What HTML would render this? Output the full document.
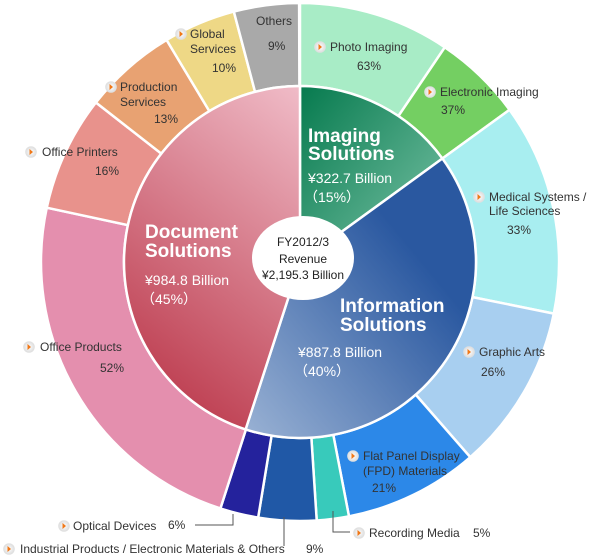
<!DOCTYPE html>
<html><head><meta charset="utf-8"><style>
html,body{margin:0;padding:0;background:#fff;width:600px;height:556px;overflow:hidden}
svg{display:block}
text{font-family:"Liberation Sans",sans-serif}
.l{font-size:12px;fill:#333}
.t{font-size:19px;font-weight:bold;fill:#fff}
.v{font-size:14px;fill:#fff}
.c{font-size:12px;fill:#222;text-anchor:middle}
</style></head><body>
<svg id="s" width="600" height="556" viewBox="0 0 600 556">
<defs>
<linearGradient id="gi" x1="0" y1="0" x2="1" y2="1"><stop offset="0" stop-color="#067a4e"/><stop offset="1" stop-color="#7cc4a8"/></linearGradient>
<linearGradient id="gf" x1="1" y1="0" x2="0" y2="1"><stop offset="0.3" stop-color="#2a58a0"/><stop offset="1" stop-color="#9ab2d4"/></linearGradient>
<linearGradient id="gd" x1="1" y1="0" x2="0.6" y2="1"><stop offset="0" stop-color="#f0bcc8"/><stop offset="1" stop-color="#c04456"/></linearGradient>
<radialGradient id="bul"><stop offset="0" stop-color="#fff"/><stop offset="1" stop-color="#ddd"/></radialGradient>
</defs>
<g id="pie"></g>
<ellipse cx="303" cy="258" rx="51" ry="42" fill="#fff"/>
<text class="c" x="303" y="246">FY2012/3</text>
<text class="c" x="303" y="263">Revenue</text>
<text class="c" x="303" y="279">¥2,195.3 Billion</text>

<text class="t" x="308" y="142">Imaging</text>
<text class="t" x="308" y="160">Solutions</text>
<text class="v" x="308" y="183">¥322.7 Billion</text>
<text class="v" x="304" y="202">（15%）</text>

<text class="t" x="145" y="238">Document</text>
<text class="t" x="145" y="257">Solutions</text>
<text class="v" x="145" y="285">¥984.8 Billion</text>
<text class="v" x="141" y="304">（45%）</text>

<text class="t" x="340" y="312">Information</text>
<text class="t" x="340" y="331">Solutions</text>
<text class="v" x="298" y="357">¥887.8 Billion</text>
<text class="v" x="294" y="376">（40%）</text>

<g id="labels">
<text class="l" x="256" y="25">Others</text><text class="l" x="268" y="50">9%</text>
<text class="l" x="190" y="38">Global</text><text class="l" x="190" y="53">Services</text><text class="l" x="212" y="72">10%</text>
<text class="l" x="120" y="91">Production</text><text class="l" x="120" y="106">Services</text><text class="l" x="154" y="123">13%</text>
<text class="l" x="42" y="156">Office Printers</text><text class="l" x="95" y="175">16%</text>
<text class="l" x="40" y="351">Office Products</text><text class="l" x="100" y="372">52%</text>
<text class="l" x="330" y="51">Photo Imaging</text><text class="l" x="357" y="70">63%</text>
<text class="l" x="440" y="96">Electronic Imaging</text><text class="l" x="441" y="114">37%</text>
<text class="l" x="489" y="201">Medical Systems /</text><text class="l" x="489" y="215">Life Sciences</text><text class="l" x="507" y="234">33%</text>
<text class="l" x="479" y="356">Graphic Arts</text><text class="l" x="481" y="376">26%</text>
<text class="l" x="363" y="460">Flat Panel Display</text><text class="l" x="363" y="475">(FPD) Materials</text><text class="l" x="372" y="492">21%</text>
<text class="l" x="369" y="537">Recording Media</text><text class="l" x="473" y="537">5%</text>
<text class="l" x="73" y="530">Optical Devices</text><text class="l" x="168" y="529">6%</text>
<text class="l" x="20" y="553">Industrial Products / Electronic Materials &amp; Others</text><text class="l" x="306" y="553">9%</text>
</g>
<g stroke="#555" fill="none" stroke-width="1">
<polyline points="195,525 233,525 233,514"/>
<line x1="284" y1="517" x2="284" y2="546"/>
<polyline points="333,511 333,532 350,532"/>
</g>
<g id="bullets"></g>
</svg>
<script>
var cx=300,cy=262,R=259,r=176;
function P(a,rr){a=a*Math.PI/180;return [(cx+rr*Math.sin(a)).toFixed(2),(cy-rr*Math.cos(a)).toFixed(2)];}
function seg(a0,a1,r0,r1){var l=(a1-a0)>180?1:0;var p1=P(a0,r1),p2=P(a1,r1),p3=P(a1,r0),p4=P(a0,r0);
return "M"+p1+"A"+r1+","+r1+" 0 "+l+" 1 "+p2+"L"+p3+(r0>0?"A"+r0+","+r0+" 0 "+l+" 0 "+p4:"")+"Z";}
var g=document.getElementById('pie'),h='';
function add(a0,a1,r0,r1,f){h+='<path d="'+seg(a0,a1,r0,r1)+'" fill="'+f+'" stroke="#fff" stroke-width="2.5"/>';}
var outer=[[34,'#a8ecc6'],[20,'#74cf62'],[47.5,'#a8eef0'],[37.4,'#a8cff0'],[30.2,'#2c88e8'],[7.2,'#38cabb'],[13,'#2058a6'],[8.6,'#24229c'],[84.2,'#e48fae'],[25.9,'#e8928c'],[21,'#e8a272'],[16.2,'#eed886'],[14.6,'#a9a9a9']];
var a=0;outer.forEach(function(o){add(a,a+o[0],r,R,o[1]);a+=o[0];});
add(0,54,0,r,'url(#gi)');add(54,198,0,r,'url(#gf)');add(198,360,0,r,'url(#gd)');
g.innerHTML=h;
var b=[[181,34],[111,87],[31,152],[29,347],[320,47],[430,92],[479,197],[469,352],[353,456],[359,533],[64,526],[9,549]],bh='';
b.forEach(function(p){bh+='<circle cx="'+p[0]+'" cy="'+p[1]+'" r="5.5" fill="url(#bul)" stroke="#e0e0e0" stroke-width="0.6"/><path d="M'+(p[0]-1.5)+','+(p[1]-3)+'L'+(p[0]+2)+','+p[1]+'L'+(p[0]-1.5)+','+(p[1]+3)+'Z" fill="#f07818"/>';});
document.getElementById('bullets').innerHTML=bh;
</script>
</body></html>
